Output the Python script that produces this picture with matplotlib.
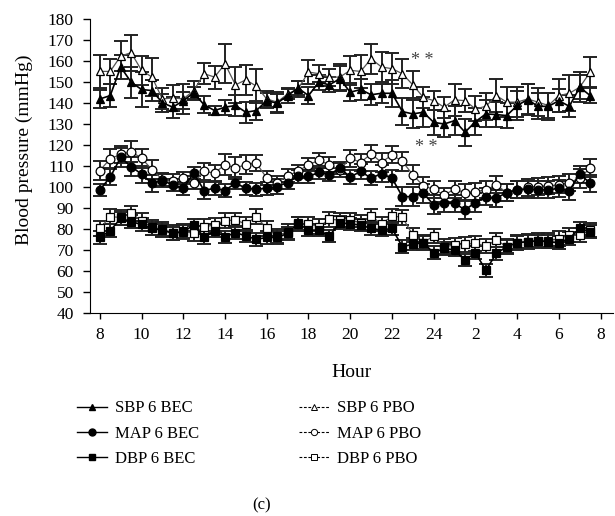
import numpy as np
import matplotlib
matplotlib.use('Agg')
import matplotlib.pyplot as plt
from matplotlib.lines import Line2D

plt.rcParams['font.family'] = ['Liberation Serif', 'DejaVu Serif']

# half-hourly readings, 8:00 to 7:30 next day
hours = 8 + 0.5 * np.arange(48)

sbp_bec = [141.8, 143.4, 157, 149.8, 146.3, 145.8, 140, 137.9, 141, 144.7, 139, 136.3,
           137.9, 138.7, 135.5, 136.3, 141, 139.8, 143.4, 147, 143.4, 149.8, 148.5, 151.4,
           145, 146.3, 143.8, 144.5, 144.5, 135.8, 134.7, 135.5, 130.7, 129.9, 131.5, 126,
           131, 134.7, 134.4, 133.9, 138.7, 141.5, 138.3, 138.3, 141, 138.3, 147.4, 143.4]
sbp_bec_err = [4.4, 5.5, 5.5, 7.4, 8.3, 5.2, 4.2, 5, 4, 3, 4, 2, 3.6, 4.8, 5, 4.4, 3.6, 4.2,
               3.5, 3.2, 4, 3.6, 3.6, 6, 4.4, 5.2, 5, 4.5, 6.4, 6.6, 6.8, 7.2, 6, 6, 6.8, 6.4,
               6.4, 6.4, 6, 6, 7, 7.2, 6.2, 6.4, 5.6, 5.2, 5.7, 3.7]
sbp_pbo = [154.9, 154.9, 162.2, 163.8, 155.4, 152.2, 141.8, 142.3, 141.8, 145.8, 153.8, 152.2,
           158.5, 148.5, 150.9, 147.9, 141.8, 140.3, 144.2, 146.6, 154.6, 153.8, 152.2, 152.2,
           155.4, 154.9, 160.9, 157, 156.2, 153.8, 148.5, 142.6, 141, 137.9, 141.4, 141,
           137.1, 138.3, 143.4, 140.3, 140.3, 141.8, 140.3, 138.7, 143.4, 144.5, 147.4, 154.6]
sbp_pbo_err = [8, 6, 7, 8.5, 7, 9, 5, 6, 7, 4.5, 5, 5.5, 9.3, 8.7, 7, 8, 4, 5, 2.5, 3.7, 5.5, 4,
               4, 6, 7, 7.7, 7, 7, 7.3, 7, 6.4, 5, 4.5, 5, 7.5, 5.5, 6, 6.5, 8, 7.3, 7, 7, 6.5,
               6, 7.7, 8.5, 7, 7]

map_bec = [98.6, 104.7, 114, 109.7, 106.1, 101.8, 103, 101, 99.4, 106.6, 98.3, 99.4,
           98.3, 101.8, 99.4, 98.9, 99.4, 100.2, 102.1, 105, 105, 106.9, 105.8, 109,
           104.7, 107.4, 104.2, 106.3, 104.2, 95.4, 95.4, 97, 91.5, 92.3, 92.3, 89.1,
           92.6, 95.4, 94.7, 97.3, 98.6, 98.9, 98.6, 98.6, 99.4, 98.3, 106.1, 101.8]
map_bec_err = [3, 4, 4.5, 4.5, 4, 4, 3, 3, 3, 3, 4, 3, 3, 3, 3, 3, 3, 3.5, 3, 3, 3, 3, 3, 3,
               3.5, 3.5, 3.5, 4, 4, 4.5, 4.5, 4.5, 4.5, 4, 4, 4.5, 4.5, 4, 4, 4, 4, 4, 4, 4,
               4, 4.5, 4, 4]
map_pbo = [107.8, 113.4, 115.5, 116.8, 113.7, 108.2, 103.5, 103, 104.2, 102.1, 107.4, 106.6,
           110.6, 109, 110.6, 111.4, 104.2, 102.1, 105.3, 107.4, 110.6, 112.6, 110.6, 108,
           113.7, 111.6, 115.8, 111.6, 115.3, 112.1, 105.8, 100.5, 98.9, 96.2, 98.9, 97.3,
           97.8, 98.6, 101, 97.3, 98.6, 99.9, 100.2, 100.5, 101, 102.1, 104.2, 109]
map_pbo_err = [4.5, 4.5, 4, 5, 4.5, 4.5, 3, 3, 3, 3, 4, 4, 5, 5, 4.5, 4, 3.5, 3, 3, 3, 3, 3.5,
               3.5, 3.5, 4, 4, 4, 4.5, 4, 4.5, 4.5, 4, 4, 3.5, 4, 4, 4, 4, 4, 4, 4, 4, 4, 4, 4,
               4, 4.5, 4.5]

dbp_bec = [76, 79.2, 85.1, 83.5, 82.2, 80.3, 79.5, 77.9, 78.7, 81.9, 76, 79.2,
           76.3, 78.3, 76.7, 75.1, 76, 76, 77.9, 82.7, 79.5, 79.5, 76.7, 83,
           82.4, 81.9, 80.3, 79.5, 80.3, 71.6, 72.8, 73.5, 68.7, 70.8, 70, 65.2,
           68.7, 60.4, 68.4, 71.6, 73.5, 74, 74.4, 74, 73.5, 75.5, 80.3, 78.7]
dbp_bec_err = [3] * 48
dbp_pbo = [80.3, 85.9, 85.5, 87.5, 84, 80.8, 79.8, 78.3, 79, 77.9, 81.1, 81.9,
           84, 84.3, 82.4, 85.9, 80.3, 76.7, 78.7, 82.4, 82.4, 81.1, 84.6, 84.3,
           84.3, 83, 86.2, 82.4, 86.2, 85.6, 77.1, 73.5, 76.7, 71.6, 72.4, 72.8,
           73.2, 71.9, 74.8, 71.6, 73.5, 74, 74.4, 74.4, 75.5, 77.1, 77.1, 79.5]
dbp_pbo_err = [3.5] * 48

xtick_pos = list(range(8, 33, 2))
xtick_labels = ['8', '10', '12', '14', '16', '18', '20', '22', '24', '2', '4', '6', '8']

fig = plt.figure(figsize=(6.15, 5.16), dpi=100)
ax = fig.add_axes([0.146, 0.393, 0.851, 0.571])

pbo_color = '#555555'
series = [
    (sbp_pbo, sbp_pbo_err, '^', 'white', pbo_color, 0.9),
    (map_pbo, map_pbo_err, 'o', 'white', pbo_color, 0.9),
    (dbp_pbo, dbp_pbo_err, 's', 'white', pbo_color, 0.9),
    (sbp_bec, sbp_bec_err, '^', 'black', 'black', 1.2),
    (map_bec, map_bec_err, 'o', 'black', 'black', 1.2),
    (dbp_bec, dbp_bec_err, 's', 'black', 'black', 1.2),
]
for vals, err, mk, fc, lc, lw in series:
    ax.errorbar(hours, vals, yerr=err, fmt='none', ecolor='#222222',
                elinewidth=1.4, capsize=5, capthick=1.4, zorder=2)
    ax.plot(hours, vals, color=lc, lw=lw, marker=mk, markersize=6.3,
            markerfacecolor=fc, markeredgecolor='black', markeredgewidth=0.9, zorder=3)

ax.text(23.45, 160, '* *', fontsize=13, ha='center', va='center', color='#444444')
ax.text(23.65, 118.7, '* *', fontsize=13, ha='center', va='center', color='#444444')

ax.set_xlim(7.52, 32.6)
ax.set_ylim(40, 180)
ax.set_yticks(range(40, 181, 10))
ax.set_xticks(xtick_pos)
ax.set_xticklabels(xtick_labels)
ax.spines['top'].set_visible(False)
ax.spines['right'].set_visible(False)
ax.tick_params(direction='out', width=1, labelsize=12.5)
ax.tick_params(axis='y', length=5, pad=6.5)
ax.tick_params(axis='x', length=4, pad=6)
ax.set_ylabel('Blood pressure (mmHg)', fontsize=14)
ax.set_xlabel('Hour', fontsize=14)
ax.yaxis.set_label_coords(-0.108, 0.555)
ax.xaxis.set_label_coords(0.5, -0.172)

handles = [
    Line2D([], [], color='black', lw=1, marker='^', markersize=5, mfc='black', mec='black'),
    Line2D([], [], color='black', lw=1, marker='o', markersize=5, mfc='black', mec='black'),
    Line2D([], [], color='black', lw=1, marker='s', markersize=5, mfc='black', mec='black'),
    Line2D([], [], color='black', lw=0.8, ls=(0, (2.5, 1.5)), marker='^', markersize=4.5,
           mfc='white', mec='black', mew=0.7),
    Line2D([], [], color='black', lw=0.8, ls=(0, (2.5, 1.5)), marker='o', markersize=4.5,
           mfc='white', mec='black', mew=0.7),
    Line2D([], [], color='black', lw=0.8, ls=(0, (2.5, 1.5)), marker='s', markersize=4.5,
           mfc='white', mec='black', mew=0.7),
]
labels = ['SBP 6 BEC', 'MAP 6 BEC', 'DBP 6 BEC', 'SBP 6 PBO', 'MAP 6 PBO', 'DBP 6 PBO']
fig.legend(handles, labels, ncol=2, loc='upper left', bbox_to_anchor=(0.114, 0.237),
           frameon=False, fontsize=12, handlelength=1.8, handletextpad=0.48,
           columnspacing=6.0, labelspacing=0.55, borderaxespad=0)

fig.text(0.426, 0.0213, '(c)', fontsize=12, ha='center', va='center')

fig.savefig('out.png', dpi=100)
